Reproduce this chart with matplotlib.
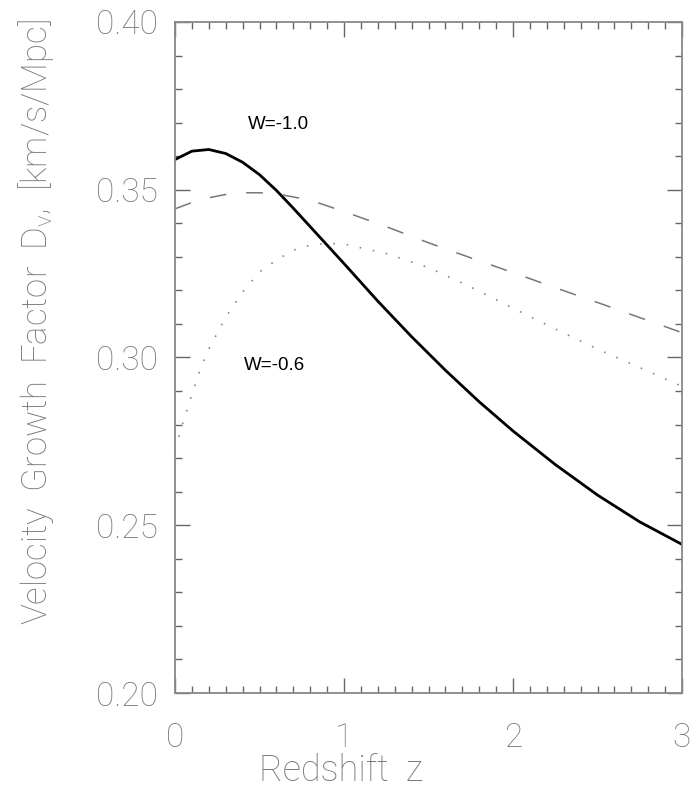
import matplotlib
matplotlib.use("Agg")
import matplotlib.pyplot as plt
from matplotlib.ticker import MultipleLocator

# ---- data ----
z_solid = [0.0, 0.1, 0.2, 0.3, 0.4, 0.5, 0.6, 0.7, 0.8, 0.9, 1.0, 1.2, 1.4,
           1.6, 1.8, 2.0, 2.25, 2.5, 2.75, 3.0]
dv_w10 = [0.359, 0.3615, 0.362, 0.3608, 0.3582, 0.3545, 0.3498, 0.3445, 0.339,
          0.3335, 0.328, 0.3168, 0.3062, 0.2962, 0.2868, 0.2781, 0.2681, 0.259,
          0.251, 0.2443]

z_dash = [0.0, 0.1, 0.2, 0.3, 0.4, 0.5, 0.6, 0.8, 1.0, 1.25, 1.5, 1.75, 2.0,
          2.25, 2.5, 2.75, 3.0]
dv_dash = [0.3443, 0.3462, 0.3476, 0.3486, 0.3491, 0.3491, 0.3488, 0.3469,
           0.3435, 0.339, 0.3342, 0.3297, 0.3253, 0.3208, 0.3164, 0.3119, 0.3074]

z_dot = [0.0, 0.05, 0.1, 0.15, 0.2, 0.3, 0.4, 0.5, 0.6, 0.7, 0.8, 0.9, 1.0,
         1.25, 1.5, 1.75, 2.0, 2.25, 2.5, 2.75, 3.0]
dv_w06 = [0.2725, 0.281, 0.289, 0.2965, 0.3025, 0.312, 0.3195, 0.3255, 0.329,
          0.332, 0.3335, 0.334, 0.3338, 0.331, 0.3268, 0.321, 0.3147, 0.3085,
          0.3025, 0.297, 0.2914]

GRAY = "#7a7a7a"
AXFONT = dict(family=["Roboto", "DejaVu Sans"], weight="light")
plt.rcParams["mathtext.fontset"] = "custom"
plt.rcParams["mathtext.rm"] = "Roboto:light"
plt.rcParams["mathtext.it"] = "Roboto:light"
plt.rcParams["mathtext.default"] = "rm"

fig = plt.figure(figsize=(6.96, 7.93), dpi=100)
ax = fig.add_axes([175 / 696, 1 - 693 / 793, 507 / 696, 671 / 793])

ax.plot(z_solid, dv_w10, color="black", lw=2.0)
ax.plot(z_dash, dv_dash, color="#777777", lw=1.1, dashes=(11, 13))
ax.plot(z_dot, dv_w06, color="#888888", lw=1.2, dashes=(1, 7))

ax.text(0.615, 0.3693, "W=-1.0", ha="center", va="center",
        fontsize=13.5, family="Liberation Sans", color="black")
ax.text(0.59, 0.2976, "W=-0.6", ha="center", va="center",
        fontsize=13.5, family="Liberation Sans", color="black")

ax.set_xlim(0, 3)
ax.set_ylim(0.20, 0.40)
ax.xaxis.set_major_locator(MultipleLocator(1))
ax.xaxis.set_minor_locator(MultipleLocator(0.1))
ax.yaxis.set_major_locator(MultipleLocator(0.05))
ax.yaxis.set_minor_locator(MultipleLocator(0.01))
ax.yaxis.set_major_formatter(plt.FormatStrFormatter("%.2f"))

for s in ax.spines.values():
    s.set_color("#888888")
    s.set_linewidth(1.3)

ax.tick_params(which="both", direction="in", top=True, right=True,
               color="#666666", width=1.0)
ax.tick_params(which="major", length=11)
ax.tick_params(which="minor", length=5)
ax.tick_params(axis="x", which="major", pad=21, labelsize=24, labelcolor=GRAY)
ax.tick_params(axis="y", which="major", pad=12, labelsize=24, labelcolor=GRAY)
for lab in ax.get_xticklabels() + ax.get_yticklabels():
    lab.set(**AXFONT)

ax.set_xlabel("Redshift  z", fontsize=26, color=GRAY, **AXFONT)
ax.xaxis.set_label_coords(0.327, -0.09)
ax.set_ylabel("Velocity  Growth  Factor  D$_v$,  [km/s/Mpc]", fontsize=25,
              color=GRAY, **AXFONT)
ax.yaxis.set_label_coords(-0.235, 0.553)

fig.savefig("out.png", dpi=100)
